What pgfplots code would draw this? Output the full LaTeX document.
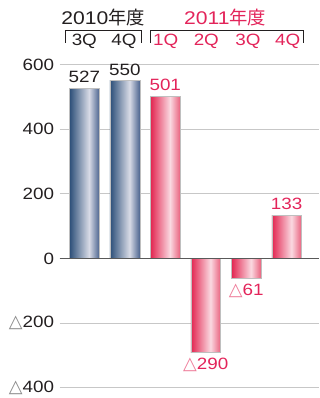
\documentclass[border=0pt]{standalone}
\usepackage{pgfplots}
\pgfplotsset{compat=1.18}
\usepackage{fontspec}
\setmainfont{Liberation Sans}[FakeStretch=1.15]
\newfontfamily\cjk{Noto Sans CJK JP}
\newfontfamily\sym{DejaVu Sans}
\definecolor{pinkt}{HTML}{E3245A}
\definecolor{pinkl}{HTML}{EE7A98}
\definecolor{darkt}{HTML}{231F20}
\definecolor{trig}{HTML}{8A8A8A}
\definecolor{bA}{HTML}{2B4E78}
\definecolor{bB}{HTML}{D8DBE6}
\definecolor{bC}{HTML}{4E6690}
\definecolor{pA}{HTML}{E2244F}
\definecolor{pB}{HTML}{FAD9E1}
\definecolor{pC}{HTML}{E9627E}
\pgfdeclarehorizontalshading{bluebar}{100bp}{color(0bp)=(bA); color(25bp)=(bA); color(58bp)=(bB); color(75bp)=(bC); color(100bp)=(bC)}
\pgfdeclarehorizontalshading{pinkbar}{100bp}{color(0bp)=(pA); color(25bp)=(pA); color(58bp)=(pB); color(75bp)=(pC); color(100bp)=(pC)}
\newcommand{\tri}[1]{{\sym\color{#1}\fontsize{18}{18}\selectfont △}}
\pgfplotsset{
  bluebar/.style={ybar, bar shift=0pt, bar width=30pt, draw=black!25, line width=0.3pt, shading=bluebar},
  pinkbar/.style={ybar, bar shift=0pt, bar width=30pt, draw=black!25, line width=0.3pt, shading=pinkbar},
}
\begin{document}
\begin{tikzpicture}
\begin{axis}[
  at={(0pt,0pt)}, anchor=south west,
  scale only axis, width=262pt, height=326pt,
  xmin=-0.613, xmax=5.81, ymin=-400, ymax=600,
  axis line style={draw=none},
  xtick=\empty,
  ytick={-400,-200,0,200,400,600},
  yticklabels={\tri{trig}400,\tri{trig}200,0,200,400,600},
  yticklabel style={font=\fontsize{16.5}{16.5}\selectfont, text=darkt, xshift=-2pt},
  major tick length=0pt,
  ymajorgrids, grid style={color=black!22, line width=1pt},
  clip=false,
]
\addplot[bluebar] coordinates {(0,527)};
\addplot[bluebar] coordinates {(1,550)};
\addplot[pinkbar] coordinates {(2,501)};
\addplot[pinkbar] coordinates {(3,-290)};
\addplot[pinkbar] coordinates {(4,-61)};
\addplot[pinkbar] coordinates {(5,133)};
\draw[color=black!65, line width=1pt] (rel axis cs:0,0.4) -- (rel axis cs:1,0.4);
\begin{scope}[font=\fontsize{16.5}{16.5}\selectfont]
\node[text=darkt, anchor=base] at ([yshift=6pt]axis cs:0,527) {527};
\node[text=darkt, anchor=base] at ([yshift=5pt]axis cs:1,550) {550};
\node[text=pinkt, anchor=base] at ([yshift=6pt]axis cs:2,501) {501};
\node[text=pinkt, anchor=base] at ([yshift=6pt]axis cs:5,133) {133};
\node[text=pinkt, anchor=north] at ([yshift=-2pt]axis cs:3,-290) {\tri{pinkl}290};
\node[text=pinkt, anchor=north] at ([yshift=-2pt]axis cs:4,-61) {\tri{pinkl}61};
\end{scope}
\end{axis}
% header
\node[anchor=base, text=darkt, font=\fontsize{18.5}{18.5}\selectfont] at (44pt,366pt) {2010{\cjk 年度}};
\node[anchor=base, text=pinkt, font=\fontsize{18.5}{18.5}\selectfont] at (167pt,366pt) {2011{\cjk 年度}};
\draw[darkt, line width=1.1pt] (6pt,348pt) -- (6pt,360pt) -- (83pt,360pt) -- (83pt,348pt);
\draw[darkt, line width=1.1pt] (92pt,348pt) -- (92pt,360pt) -- (246pt,360pt) -- (246pt,348pt);
\begin{scope}[font=\fontsize{16.5}{16.5}\selectfont]
\node[anchor=base, text=darkt] at (25pt,345pt) {3Q};
\node[anchor=base, text=darkt] at (65pt,345pt) {4Q};
\node[anchor=base, text=pinkt] at (107pt,345pt) {1Q};
\node[anchor=base, text=pinkt] at (148pt,345pt) {2Q};
\node[anchor=base, text=pinkt] at (190pt,345pt) {3Q};
\node[anchor=base, text=pinkt] at (230pt,345pt) {4Q};
\end{scope}
\path[use as bounding box] (-60pt,-7pt) rectangle (262pt,391pt);
\end{tikzpicture}
\end{document}
